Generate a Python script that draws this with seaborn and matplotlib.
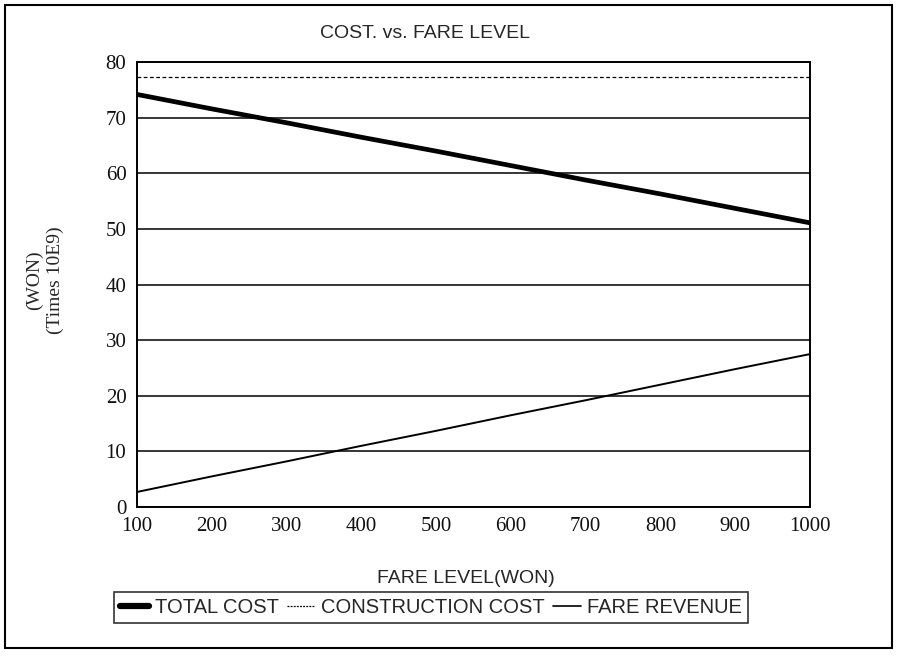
import pandas as pd
import seaborn as sns
import matplotlib.pyplot as plt
from matplotlib.lines import Line2D
from matplotlib.patches import Rectangle

# valores (x 10E9 WON)
fare_level = [100, 200, 300, 400, 500, 600, 700, 800, 900, 1000]
total_cost = [74.2, 71.6, 69.1, 66.5, 64.0, 61.4, 58.8, 56.3, 53.7, 51.1]
construction_cost = [77.3, 77.3, 77.3, 77.3, 77.3, 77.3, 77.3, 77.3, 77.3, 77.3]
fare_revenue = [2.7, 5.5, 8.2, 11.0, 13.7, 16.5, 19.2, 22.0, 24.8, 27.5]
y_ticks = [0, 10, 20, 30, 40, 50, 60, 70, 80]

dados = pd.DataFrame({'FARE': fare_level, 'TOTAL': total_cost,
                      'CONSTRUCTION': construction_cost, 'REVENUE': fare_revenue})

sns.set_style("white")
plt.rcParams['font.family'] = ['Liberation Sans', 'DejaVu Sans']

fig = plt.figure(figsize=(9, 6.66), dpi=100)
ax = fig.add_axes([0.152, 0.2387, 0.748, 0.668])

sns.lineplot(data=dados, x='FARE', y='TOTAL', ax=ax, color='black', linewidth=3.4)
sns.lineplot(data=dados, x='FARE', y='CONSTRUCTION', ax=ax, color='black',
             linewidth=0.9, linestyle=(0, (3, 2)))
sns.lineplot(data=dados, x='FARE', y='REVENUE', ax=ax, color='black', linewidth=1.4)

ax.set_xlim(100, 1000)
ax.set_ylim(0, 80)
ax.set_xticks(fare_level)
ax.set_yticks(y_ticks)
ax.yaxis.grid(True, color='black', linewidth=1.1)
ax.xaxis.grid(False)
for s in ax.spines.values():
    s.set_color('black')
    s.set_linewidth(1.4)
ax.tick_params(axis='both', direction='out', length=4, color='black', labelsize=15,
               labelcolor='#111111')
for lab in ax.get_xticklabels() + ax.get_yticklabels():
    lab.set_family('Liberation Serif')
ax.set_xlabel('')
ax.set_ylabel('')

fig.text(0.472, 0.95, 'COST. vs. FARE LEVEL', ha='center', va='center', fontsize=14)
fig.text(0.518, 0.132, 'FARE LEVEL(WON)', ha='center', va='center', fontsize=14)
fig.text(0.05, 0.58, '(WON)\n(Times 10E9)', rotation=90, ha='center', va='center',
         fontsize=14, family='Liberation Serif', linespacing=1.25)

handles = [Line2D([], [], color='black', linewidth=4.5),
           Line2D([], [], color='black', linewidth=0.9, linestyle=(0, (1.5, 1))),
           Line2D([], [], color='black', linewidth=1.2)]
leg = fig.legend(handles, ['TOTAL COST', 'CONSTRUCTION COST', 'FARE REVENUE'],
                 loc='center', bbox_to_anchor=(0.479, 0.088), ncol=3, fontsize=14.5,
                 frameon=True, fancybox=False, handlelength=1.4, handletextpad=0.3,
                 columnspacing=0.4, borderpad=0.3)
leg.get_frame().set_edgecolor('black')
leg.get_frame().set_linewidth(1.2)

fig.patches.append(Rectangle((0.0056, 0.027), 0.986, 0.966, transform=fig.transFigure,
                             fill=False, edgecolor='black', linewidth=1.5))

fig.savefig('out.png', dpi=100)
